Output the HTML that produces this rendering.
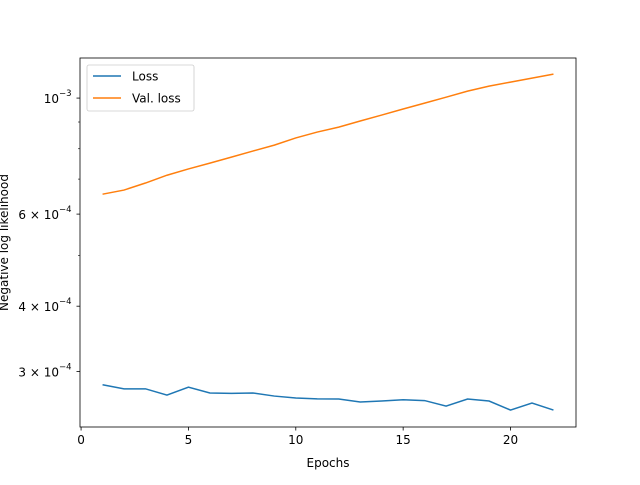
<!DOCTYPE html>
<html><head><meta charset="utf-8"><style>
body{margin:0;background:#fff;}
svg{font-family:"DejaVu Sans","Liberation Sans",sans-serif;}
</style></head><body>
<svg id="chart" width="640" height="480" xmlns="http://www.w3.org/2000/svg">
<rect width="640" height="480" fill="#fff"/>
<g id="marks"></g>
<g id="axes"></g>
</svg>
<script>
const epochs=[1,2,3,4,5,6,7,8,9,10,11,12,13,14,15,16,17,18,19,20,21,22];
const lossValues=[2.83e-4,2.78e-4,2.78e-4,2.705e-4,2.80e-4,2.73e-4,2.725e-4,2.73e-4,2.693e-4,2.67e-4,2.66e-4,2.658e-4,2.623e-4,2.635e-4,2.65e-4,2.64e-4,2.577e-4,2.658e-4,2.635e-4,2.532e-4,2.611e-4,2.532e-4];
const valLossValues=[6.55e-4,6.67e-4,6.88e-4,7.12e-4,7.32e-4,7.51e-4,7.71e-4,7.92e-4,8.13e-4,8.39e-4,8.61e-4,8.80e-4,9.04e-4,9.28e-4,9.53e-4,9.78e-4,1.004e-3,1.031e-3,1.054e-3,1.073e-3,1.092e-3,1.111e-3];
const xTicks=[0,5,10,15,20];
const yTicks=[3e-4,4e-4,6e-4,1e-3];
const yTickLabels=["3 × 10","4 × 10","6 × 10","10"];
const yTickExp=["−4","−4","−4","−3"];
const yMinor=[5e-4,7e-4,8e-4,9e-4];

const L=80,R=576,T=58,B=427;
const xMin=-0.05,xMax=23.05;
const yMinL=Math.log10(2.35e-4),yMaxL=Math.log10(1.193e-3);
const xs=v=>L+(v-xMin)/(xMax-xMin)*(R-L);
const ys=v=>B-(Math.log10(v)-yMinL)/(yMaxL-yMinL)*(B-T);
const NS="http://www.w3.org/2000/svg";
function mk(tag,attrs,parent,text){const e=document.createElementNS(NS,tag);for(const k in attrs)e.setAttribute(k,attrs[k]);if(text!==undefined)e.textContent=text;parent.appendChild(e);return e;}
const marks=document.getElementById('marks'),axes=document.getElementById('axes');

function series(vals,color,name){
  const d=vals.map((v,i)=>(i?'L':'M')+xs(epochs[i]).toFixed(2)+' '+ys(v).toFixed(2)).join(' ');
  const p=mk('path',{d:d,fill:'none',stroke:color,'stroke-width':1.5},marks);
  
  
}
series(lossValues,'#1f77b4','loss-line');
series(valLossValues,'#ff7f0e','val-loss-line');

const frame=mk('rect',{x:L,y:T,width:R-L,height:B-T,fill:'none',stroke:'#000','stroke-width':0.8},axes);



xTicks.forEach(t=>{
  const x=xs(t);
  mk('line',{x1:x,x2:x,y1:B,y2:B+3.5,stroke:'#000','stroke-width':0.8},axes);
  const tx=mk('text',{x:x,y:B+17,'font-size':12,'text-anchor':'middle'},axes,String(t));
  
  
});
yTicks.forEach((t,i)=>{
  const y=ys(t);
  mk('line',{x1:L-3.5,x2:L,y1:y,y2:y,stroke:'#000','stroke-width':0.8},axes);
  const tx=mk('text',{x:L-21,y:y+5,'font-size':12,'text-anchor':'end'},axes,yTickLabels[i]);
  
  
  mk('text',{x:L-21,y:y-2,'font-size':8.5,'text-anchor':'start'},axes,yTickExp[i]);
});
yMinor.forEach(t=>{const y=ys(t);mk('line',{x1:L-2,x2:L,y1:y,y2:y,stroke:'#000','stroke-width':0.6},axes);});

const xl=mk('text',{x:(L+R)/2,y:467,'font-size':12,'text-anchor':'middle'},axes,'Epochs');


const yl=mk('text',{x:0,y:0,'font-size':12,'text-anchor':'middle',transform:'translate(8,'+((T+B)/2)+') rotate(-90)'},axes,'Negative log likelihood');



const lg=mk('g',{},axes);


mk('rect',{x:87,y:65,width:107,height:46,rx:2,fill:'#fff','fill-opacity':0.8,stroke:'#ccc','stroke-width':0.8},lg);
[['Loss','#1f77b4',76],['Val. loss','#ff7f0e',98]].forEach(([n,c,y])=>{
  const e=mk('g',{},lg);
  
  
  mk('line',{x1:93,x2:121,y1:y,y2:y,stroke:c,'stroke-width':1.5},e);
  mk('text',{x:132,y:y+4.5,'font-size':12},e,n);
});
</script>
</body></html>
